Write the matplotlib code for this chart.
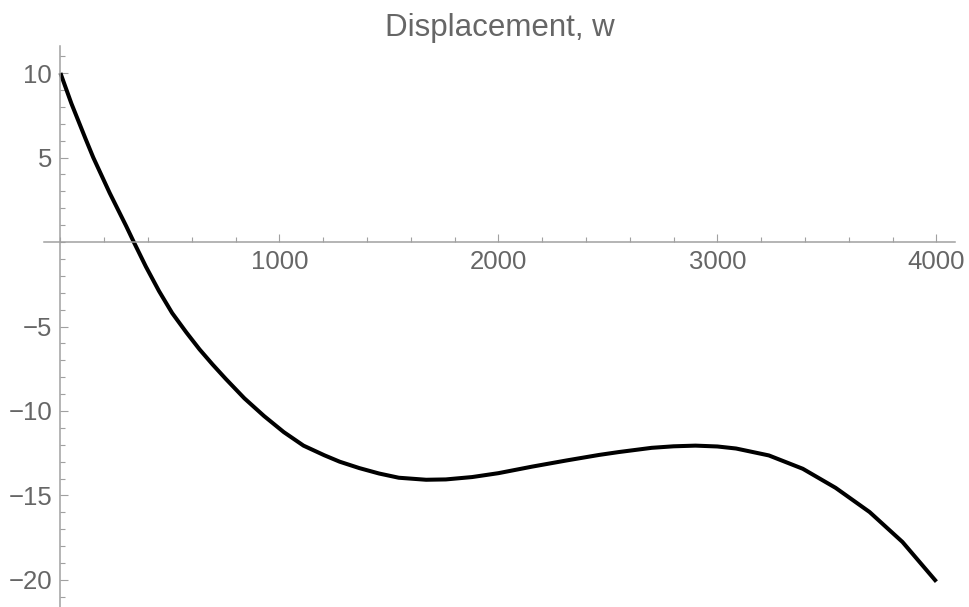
import matplotlib
matplotlib.use("Agg")
import matplotlib.pyplot as plt
from matplotlib.ticker import FixedLocator, MultipleLocator

# values
x_vals = [0, 50, 115, 150, 225, 300, 335, 390, 450, 510, 575, 635, 695, 755, 840, 930,
          1020, 1110, 1205, 1275, 1365, 1455, 1545, 1670, 1760, 1880, 2000, 2155, 2310,
          2460, 2550, 2700, 2800, 2900, 3000, 3085, 3235, 3390, 3540, 3695, 3845, 4000]
w_vals = [10, 8.2, 6.1, 5.0, 2.9, 0.95, 0, -1.45, -2.9, -4.2, -5.35, -6.35, -7.25, -8.1,
          -9.25, -10.3, -11.25, -12.05, -12.62, -13.0, -13.38, -13.7, -13.95, -14.07,
          -14.05, -13.91, -13.68, -13.29, -12.93, -12.6, -12.43, -12.18, -12.09, -12.05,
          -12.1, -12.22, -12.63, -13.42, -14.55, -15.98, -17.75, -20.1]

x_ticks = [1000, 2000, 3000, 4000]
y_ticks = [-20, -15, -10, -5, 5, 10]
title = "Displacement, w"

axis_col = "#a0a0a0"
label_col = "#666666"

plt.rcParams['font.family'] = ['Liberation Sans', 'DejaVu Sans']

fig = plt.figure(figsize=(9.69, 6.07), dpi=100)
ax = fig.add_axes([44/969, 0.0, 911/969, 561/607])

ax.plot(x_vals, w_vals, color="black", lw=2.9, solid_capstyle="butt", solid_joinstyle="round")

ax.set_xlim(-75, 4085)
ax.set_ylim(-21.6, 11.6)

for s in ["top", "right"]:
    ax.spines[s].set_visible(False)
for s in ["left", "bottom"]:
    ax.spines[s].set_position(("data", 0))
    ax.spines[s].set_color(axis_col)
    ax.spines[s].set_linewidth(1.1)

ax.xaxis.set_major_locator(FixedLocator(x_ticks))
ax.yaxis.set_major_locator(FixedLocator(y_ticks))
ax.xaxis.set_minor_locator(MultipleLocator(200))
ax.yaxis.set_minor_locator(MultipleLocator(1))

ax.tick_params(which="both", direction="in", color=axis_col, width=0.8)
ax.tick_params(which="major", length=5.5, labelsize=18.5, labelcolor=label_col)
ax.tick_params(which="minor", length=3.5)
ax.tick_params(axis="x", which="major", pad=6)
ax.tick_params(axis="y", which="major", pad=6)

ax.set_title(title, fontsize=22.5, color=label_col, y=1.0, pad=7)

fig.savefig("out.png", dpi=100)
